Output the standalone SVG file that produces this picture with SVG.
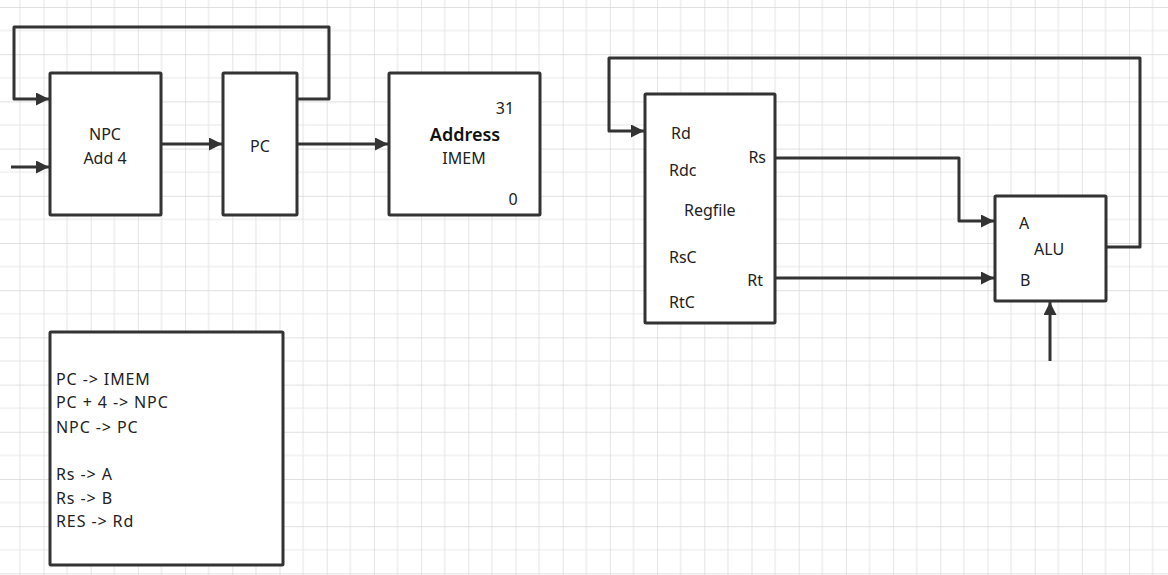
<svg xmlns="http://www.w3.org/2000/svg" width="1168" height="575" viewBox="0 0 1168 575">
<defs>
<pattern id="grid" patternUnits="userSpaceOnUse" x="43.5" y="7" width="47.2" height="47.2">
<path d="M23.6,0 V47.2 M0,23.6 H47.2" stroke="#e8e8e8" stroke-width="1.2" fill="none"/>
<path d="M0,0 V47.2 M0,0 H47.2" stroke="#d6d6d6" stroke-width="1.3" fill="none"/>
</pattern>
<marker id="arr" viewBox="0 0 13 13" refX="13" refY="6.5" markerWidth="13" markerHeight="13" markerUnits="userSpaceOnUse" orient="auto">
<path d="M0,0 L13,6.5 L0,13 z" fill="#333"/>
</marker>
<style>
.box{fill:#fff;stroke:#333;stroke-width:3}
.t{font-family:"Noto Sans","Open Sans",sans-serif;font-size:16px;fill:#222}
.c{text-anchor:middle}
.b{font-weight:600;font-size:18px;fill:#111}
.ls{letter-spacing:0.9px}
.w{fill:none;stroke:#333;stroke-width:3;stroke-linejoin:round}
</style>
</defs>
<rect width="1168" height="575" fill="#fff"/>
<rect width="1168" height="575" fill="url(#grid)"/>

<g id="connectors">
<polyline class="w" points="297,99 329,99 329,27 14,27 14,99 49,99" marker-end="url(#arr)"/>
<polyline class="w" points="11,167 49,167" marker-end="url(#arr)"/>
<polyline class="w" points="161,144 222,144" marker-end="url(#arr)"/>
<polyline class="w" points="297,144 388,144" marker-end="url(#arr)"/>
<polyline class="w" points="1106,247 1140,247 1140,58 609,58 609,131 644,131" marker-end="url(#arr)"/>
<polyline class="w" points="776,158 959,158 959,221 994,221" marker-end="url(#arr)"/>
<polyline class="w" points="776,278 994,278" marker-end="url(#arr)"/>
<polyline class="w" points="1050,361 1050,302" marker-end="url(#arr)"/>
</g>

<g id="npc">
<rect class="box" x="50" y="73" width="111" height="142" rx="1"/>
<text class="t c" x="105" y="140">NPC</text>
<text class="t c" x="105" y="164">Add 4</text>
</g>

<g id="pc">
<rect class="box" x="223" y="73" width="74" height="142" rx="1"/>
<text class="t c" x="260" y="152">PC</text>
</g>

<g id="imem">
<rect class="box" x="389" y="73" width="151" height="142" rx="1"/>
<text class="t c" x="505" y="114">31</text>
<text class="t c b" x="465" y="141">Address</text>
<text class="t c" x="464" y="164">IMEM</text>
<text class="t c" x="513" y="205">0</text>
</g>

<g id="regfile">
<rect class="box" x="645" y="94" width="130" height="229" rx="1"/>
<text class="t" x="671" y="139">Rd</text>
<text class="t" x="669" y="176">Rdc</text>
<text class="t" x="684" y="216">Regfile</text>
<text class="t" x="669" y="263">RsC</text>
<text class="t" x="669" y="308">RtC</text>
<text class="t" x="766" y="163" text-anchor="end">Rs</text>
<text class="t" x="763" y="286" text-anchor="end">Rt</text>
</g>

<g id="alu">
<rect class="box" x="995" y="196" width="111" height="105" rx="1"/>
<text class="t" x="1019" y="229">A</text>
<text class="t" x="1034" y="255">ALU</text>
<text class="t" x="1020" y="286">B</text>
</g>

<g id="notes">
<rect class="box" x="50" y="332" width="233" height="233" rx="1"/>
<text class="t ls" x="56" y="385">PC -&gt; IMEM</text>
<text class="t ls" x="56" y="408">PC + 4 -&gt; NPC</text>
<text class="t ls" x="56" y="433">NPC -&gt; PC</text>
<text class="t ls" x="56" y="480">Rs -&gt; A</text>
<text class="t ls" x="56" y="504">Rs -&gt; B</text>
<text class="t ls" x="56" y="527">RES -&gt; Rd</text>
</g>
</svg>
